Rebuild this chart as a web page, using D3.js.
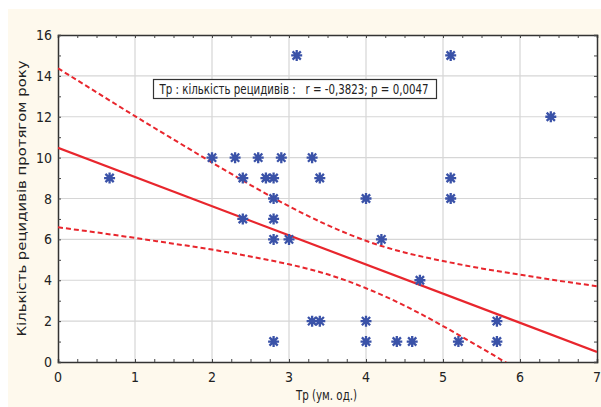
<!DOCTYPE html>
<html>
<head>
<meta charset="utf-8">
<script src="https://cdn.jsdelivr.net/npm/d3@7"></script>
<style>
  body { margin: 0; background: #fff; }
  text { font-family: "Liberation Sans Narrow", "DejaVu Sans Condensed", "Roboto", sans-serif; fill: #222; }
</style>
</head>
<body>
<div id="wrapper"></div>
<script>
const tpValues = [0.67, 2.0, 2.3, 2.6, 2.9, 3.3, 2.4, 2.7, 2.8, 3.4, 2.8, 4.0, 5.1, 5.1,
  2.4, 2.8, 2.8, 3.0, 4.2, 3.1, 5.1, 6.4, 4.7, 3.3, 3.4, 4.0, 5.7, 2.8, 4.0, 4.4, 4.6, 5.2, 5.7]
const relapseValues = [9, 10, 10, 10, 10, 10, 9, 9, 9, 9, 8, 8, 8, 9,
  7, 7, 6, 6, 6, 15, 15, 12, 4, 2, 2, 2, 2, 1, 1, 1, 1, 1, 1]

// regression line and 95% band
const fitX = [0, 7]
const fitY = [10.48, 0.49]
const bandX = [0, 0.5, 1, 1.5, 2, 2.5, 3, 3.5, 4, 4.5, 5, 5.5, 6, 6.5, 7]
const bandUpper = [14.37, 13.2, 12.03, 10.89, 9.76, 8.66, 7.62, 6.7, 5.93, 5.36, 4.94, 4.58, 4.27, 3.98, 3.71]
const bandLower = [6.59, 6.34, 6.07, 5.79, 5.5, 5.16, 4.78, 4.29, 3.61, 2.76, 1.76, 0.68, -0.43]

const xTicks = [0, 1, 2, 3, 4, 5, 6, 7]
const yTicks = [0, 2, 4, 6, 8, 10, 12, 14, 16]
const legendText = "Тр : кількість рецидивів :   r = -0,3823; p = 0,0047"

const width = 601, height = 407
const margin = { top: 35, right: 4, bottom: 45, left: 58 }
const boundedWidth = width - margin.left - margin.right
const boundedHeight = height - margin.top - margin.bottom

const svg = d3.select("#wrapper").append("svg")
  .attr("width", width)
  .attr("height", height)

// cream page behind the chart
svg.append("rect")
  .attr("x", 8).attr("y", 9)
  .attr("width", width - 8).attr("height", height - 9)
  .attr("fill", "#fef9ed")

const bounds = svg.append("g")
  .attr("transform", `translate(${margin.left},${margin.top})`)

const xScale = d3.scaleLinear().domain([0, 7]).range([0, boundedWidth])
const yScale = d3.scaleLinear().domain([0, 16]).range([boundedHeight, 0])

bounds.append("rect")
  .attr("width", boundedWidth).attr("height", boundedHeight)
  .attr("fill", "#fff")

bounds.append("clipPath").attr("id", "plotClip")
  .append("rect").attr("width", boundedWidth).attr("height", boundedHeight)

// grid
bounds.append("g").selectAll("line").data(xTicks.slice(1, -1)).join("line")
  .attr("x1", d => xScale(d)).attr("x2", d => xScale(d))
  .attr("y1", 0).attr("y2", boundedHeight)
  .attr("stroke", "#d6d6d6").attr("stroke-width", 1.2)
bounds.append("g").selectAll("line").data(yTicks.slice(1, -1)).join("line")
  .attr("y1", d => yScale(d)).attr("y2", d => yScale(d))
  .attr("x1", 0).attr("x2", boundedWidth)
  .attr("stroke", "#d6d6d6").attr("stroke-width", 1.2)

// axes: small inward ticks on all four sides
const xMinor = d3.range(0, 7.01, 0.25)
const yMinor = d3.range(0, 16.01, 1)
const tickLen = 3

const xBottom = d3.axisBottom(xScale).tickValues(xMinor).tickSize(-tickLen).tickFormat("")
const xTop = d3.axisTop(xScale).tickValues(xMinor).tickSize(-tickLen).tickFormat("")
const yLeft = d3.axisLeft(yScale).tickValues(yMinor).tickSize(-tickLen).tickFormat("")
const yRight = d3.axisRight(yScale).tickValues(yMinor).tickSize(-tickLen).tickFormat("")

const styleAxis = g => {
  g.selectAll(".domain").attr("stroke", "#333").attr("stroke-width", 1.5)
  g.selectAll(".tick line").attr("stroke", "#444").attr("stroke-width", 1)
}
bounds.append("g").attr("transform", `translate(0,${boundedHeight})`).call(xBottom).call(styleAxis)
bounds.append("g").call(xTop).call(styleAxis)
bounds.append("g").call(yLeft).call(styleAxis)
bounds.append("g").attr("transform", `translate(${boundedWidth},0)`).call(yRight).call(styleAxis)

// tick labels
bounds.append("g").selectAll("text").data(xTicks).join("text")
  .attr("x", d => xScale(d)).attr("y", boundedHeight + 20)
  .attr("text-anchor", "middle").attr("font-size", 14)
  .text(d => d)
bounds.append("g").selectAll("text").data(yTicks).join("text")
  .attr("x", -6).attr("y", d => yScale(d) + 5)
  .attr("text-anchor", "end").attr("font-size", 14)
  .text(d => d)

// regression line + confidence band
const plot = bounds.append("g").attr("clip-path", "url(#plotClip)")
const line = d3.line().x(d => xScale(d[0])).y(d => yScale(d[1]))
const bandLine = d3.line().x(d => xScale(d[0])).y(d => yScale(d[1])).curve(d3.curveNatural)

plot.append("path")
  .attr("d", line(d3.zip(fitX, fitY)))
  .attr("fill", "none").attr("stroke", "#e8262d").attr("stroke-width", 2.2)
plot.append("path")
  .attr("d", bandLine(d3.zip(bandX, bandUpper)))
  .attr("fill", "none").attr("stroke", "#e8262d").attr("stroke-width", 2)
  .attr("stroke-dasharray", "5,3")
plot.append("path")
  .attr("d", bandLine(d3.zip(bandX.slice(0, bandLower.length), bandLower)))
  .attr("fill", "none").attr("stroke", "#e8262d").attr("stroke-width", 2)
  .attr("stroke-dasharray", "5,3")

// asterisk markers
const r = 5.5
const starPath = `M0,${-r}V${r}M${-r},0H${r}M${-r * 0.75},${-r * 0.75}L${r * 0.75},${r * 0.75}M${-r * 0.75},${r * 0.75}L${r * 0.75},${-r * 0.75}`
bounds.append("g").selectAll("path").data(d3.zip(tpValues, relapseValues)).join("path")
  .attr("transform", d => `translate(${xScale(d[0])},${yScale(d[1])})`)
  .attr("d", starPath)
  .attr("stroke", "#3a52a8").attr("stroke-width", 2.3).attr("fill", "none")

// legend box (text squeezed to the narrow width of the original font)
const legend = svg.append("g").attr("transform", "translate(153.5,79.5)")
legend.append("rect")
  .attr("x", 0).attr("y", 0)
  .attr("width", 283).attr("height", 19)
  .attr("fill", "#fff").attr("stroke", "#333").attr("stroke-width", 1.2)
legend.append("text")
  .attr("x", 6).attr("y", 14.5).attr("font-size", 14)
  .attr("xml:space", "preserve")
  .attr("textLength", 269).attr("lengthAdjust", "spacingAndGlyphs")
  .text(legendText)

// axis titles
svg.append("text")
  .attr("x", 296).attr("y", 400)
  .attr("font-size", 14)
  .attr("textLength", 61).attr("lengthAdjust", "spacingAndGlyphs")
  .text("Тр (ум. од.)")
svg.append("text")
  .attr("transform", `translate(26,${margin.top + boundedHeight / 2 + 138}) rotate(-90)`)
  .attr("font-size", 13)
  .attr("textLength", 276).attr("lengthAdjust", "spacingAndGlyphs")
  .text("Кількість рецидивів протягом року")
</script>
</body>
</html>
